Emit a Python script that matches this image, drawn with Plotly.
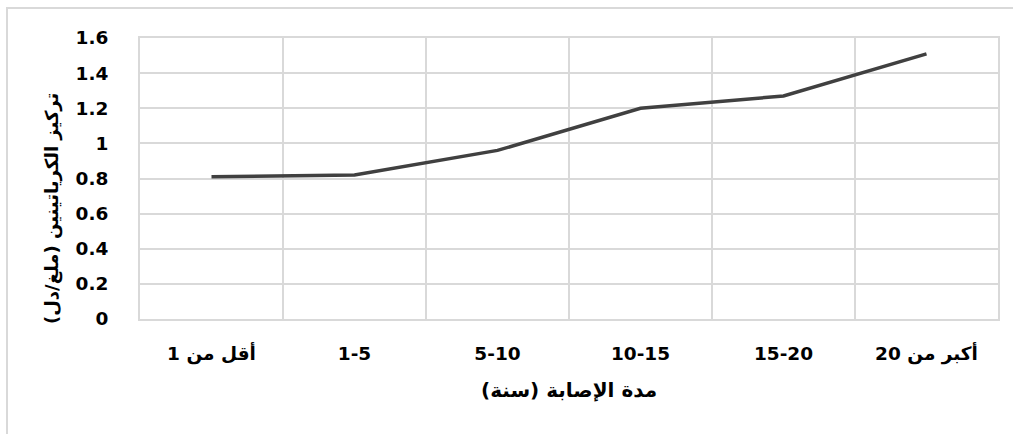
import plotly.graph_objects as go

# Creatinine concentration by disease duration
categories = ["أقل من 1", "1-5", "5-10", "10-15", "15-20", "أكبر من 20"]
creatinine = [0.81, 0.82, 0.96, 1.20, 1.27, 1.51]
y_ticks = [0, 0.2, 0.4, 0.6, 0.8, 1, 1.2, 1.4, 1.6]
y_tick_text = ["0", "0.2", "0.4", "0.6", "0.8", "1", "1.2", "1.4", "1.6"]

x_title = "مدة الإصابة (سنة)"
y_title = "تركيز الكرياتينين (ملغ/دل)"

positions = list(range(len(categories)))
boundaries = [p + 0.5 for p in positions[:-1]]

font_family = "DejaVu Sans"
grid = "#d9d9d9"

fig = go.Figure()
fig.add_trace(go.Scatter(
    x=positions,
    y=creatinine,
    mode="lines",
    line=dict(color="#404040", width=3.5),
    hoverinfo="skip",
    showlegend=False,
))

fig.update_layout(
    width=1013,
    height=434,
    margin=dict(l=140, r=15, t=38, b=115),
    paper_bgcolor="white",
    plot_bgcolor="white",
    font=dict(family=font_family, size=18, color="#000000", weight="bold"),
    xaxis=dict(
        range=[-0.5, len(categories) - 0.5],
        tickmode="array",
        tickvals=positions,
        ticktext=categories,
        showgrid=False,
        zeroline=False,
        showline=True,
        mirror=True,
        linecolor=grid,
        linewidth=2,
        ticks="",
        ticklabelstandoff=17,
        tickfont=dict(family=font_family, size=18.5, weight="bold"),
        minor=dict(tickmode="array", tickvals=boundaries, showgrid=True,
                   gridcolor=grid, gridwidth=2, ticks=""),
    ),
    yaxis=dict(
        range=[0, 1.6],
        tickmode="array",
        tickvals=y_ticks,
        ticktext=y_tick_text,
        showgrid=True,
        gridcolor=grid,
        gridwidth=2,
        zeroline=False,
        showline=True,
        mirror=True,
        linecolor=grid,
        linewidth=2,
        ticks="",
        ticklabelstandoff=26,
        tickfont=dict(family=font_family, size=18.5, weight="bold"),
    ),
    annotations=[
        dict(text=x_title, xref="paper", yref="paper", x=0.5, y=-0.253,
             showarrow=False, xanchor="center", yanchor="middle",
             font=dict(family=font_family, size=20, weight="bold")),
        dict(text=y_title, xref="paper", yref="paper", x=-0.1026, y=0.395,
             textangle=-90, showarrow=False, xanchor="center", yanchor="middle",
             font=dict(family=font_family, size=18, weight="bold")),
    ],
    shapes=[
        dict(type="rect", xref="paper", yref="paper",
             x0=-0.155, x1=1.05, y0=-0.5, y1=1.107,
             line=dict(color=grid, width=2), fillcolor="rgba(0,0,0,0)",
             layer="below"),
    ],
)

fig.write_html("out.html")
